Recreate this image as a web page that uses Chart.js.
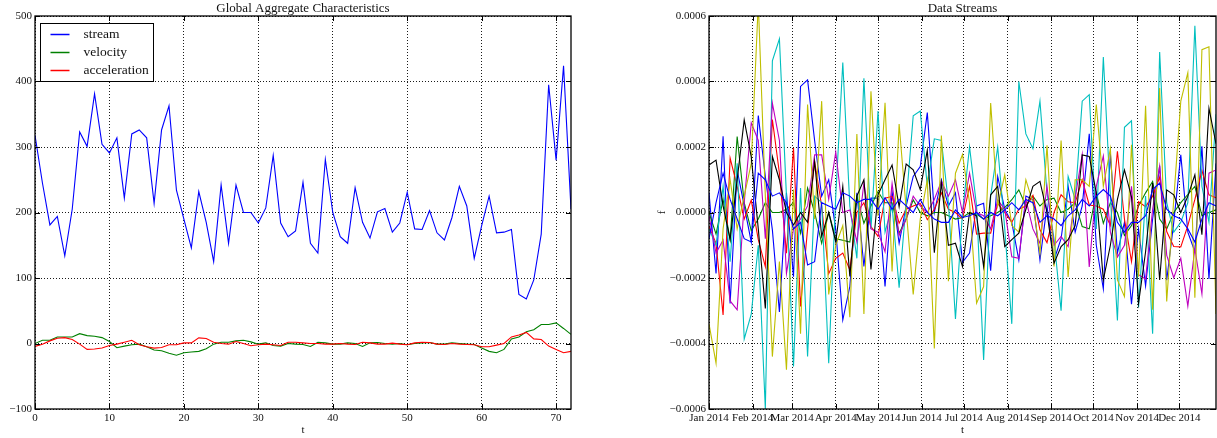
<!DOCTYPE html>
<html>
<head>
<meta charset="utf-8">
<script src="https://cdn.jsdelivr.net/npm/chart.js@4.4.1/dist/chart.umd.min.js"></script>
<style>
  body { margin: 0; background: #fff; }
  #wrap { position: relative; width: 1217px; height: 438px; }
  .box { position: absolute; top: 0; height: 438px; }
</style>
</head>
<body>
<div id="wrap">
  <div class="box" style="left:0;width:600px"><canvas id="aggChart"></canvas></div>
  <div class="box" style="left:600px;width:617px"><canvas id="streamChart"></canvas></div>
</div>
<script>
// ---- left panel: global aggregate characteristics (t = 0..72) ----
var stream = [318, 245, 181, 194, 134, 205, 323, 301, 381, 304,
              291, 314, 222, 320, 326, 314, 214, 326, 363, 234,
              190, 146, 232, 185, 125, 242, 153, 242, 200, 200,
              184, 207, 287, 184, 163, 172, 246, 153, 138, 281,
              200, 163, 153, 238, 185, 161, 201, 206, 170, 184,
              231, 175, 174, 203, 169, 158, 192, 240, 210, 130,
              180, 225, 169, 170, 174, 75, 68, 97, 167, 395,
              280, 424, 205];
var velocity = [0, 5, 5, 10, 10, 10, 15, 12, 11, 9,
                3, -6.5, -4, -2, -1, -5, -10, -11, -15, -18,
                -14, -13, -12, -8, -1, 2, 2, 4, 5, 2.5,
                -1, 1, -3, -4, 0, -1, -1.5, -4.5, 2, 1,
                -1, -1, 1, 0, -4.5, 1, 1.5, 0, -1, 0,
                -2, 0, 1, 1.5, -1, -1, 1, 0, -1, -1.5,
                -7, -12, -14, -9, 7, 10, 18, 21, 29, 29,
                31.5, 23, 14];
var acceleration = [-4.5, -1, 4, 8, 9, 6, -1, -9, -8.5, -7,
                    -3, -1, 2, 5, -2, -5, -7, -6, -2, -2,
                    1, 1, 8.6, 7.6, 2, 0, -1, 3, 0, -3.5,
                    -2, -1, -2, -3, 2, 2, 1, 0, 0, -1,
                    -1, 0, -1, -1.5, 2, 1, -1, -1, 0.5, -1,
                    -2, 1, 2, 1.5, -1, -1.5, 0, -1, -1.5, -2,
                    -5, -5, -2.5, 0, 10, 13, 17, 7, 6, -4,
                    -9, -14, -12];

// ---- right panel: data streams, values in units of 1e-4, one point every 5 days from 1 Jan 2014 ----
var blue = [0.6, -1.86, 2.33, -2.78, 1.3, 0.2, -0.9, 2.96, 1.1, -0.53,
            -3.04, 0.6, -1.96, 3.85, 4.05, 2.2, 0.5, 1.0, -0.53, -3.28,
            -2.26, 0.6, -1.65, 0.44, 0.44, -2.26, 0.64, -0.94, 0.2, 1.1,
            1.4, 3.05, 0.0, 1.0, 0.2, 0.6, -1.52, -1.24, 0.2, 0.28,
            -1.78, 1.1, 0.1, -0.3, -1.45, 0.5, 0.4, -1.45, 0.2, -1.45,
            -0.8, 0.8, -0.6, 0.2, 2.4, -1.0, -2.33, 1.8, -1.24, -0.3,
            -2.8, -0.5, -2.24, -0.2, 1.43, -2.07, -0.3, 1.76, -0.6, -1.2,
            2.02, -2.03, 1.5];
var green = [0.0, -0.66, 0.4, -0.83, 2.32, 0.3, -0.55, -0.2, 0.3, 0.0,
             0.0, 0.1, 0.3, -0.63, 0.75, 0.0, -0.94, 0.0, -0.8, -0.85,
             -0.9, 0.49, -0.33, 0.2, 0.64, 0.3, 0.3, -0.63, -0.2, 0.39,
             0.0, -0.1, 0.0, 0.0, -0.1, -0.2, -0.15, 0.0, -0.05, -0.2,
             -0.1, 0.0, 0.15, 0.39, 0.69, 0.2, 0.5, 0.2, 0.4, 0.44,
             0.0, 0.1, 0.3, -0.43, -0.5, 0.6, -0.33, 0.3, 0.0, -0.7,
             -0.4, 0.2, 0.6, 0.95, -0.2, -0.5, 0.0, 0.3, 0.55, 0.8,
             -0.1, 0.0, 0.08];
var red = [-0.43, -0.94, -3.13, 1.66, 0.8, -0.2, 0.38, -0.83, -1.65, 2.84,
           1.2, -1.24, 1.97, -2.87, -0.5, 1.55, 0.2, -1.87, -1.4, -1.24,
           -1.75, 0.0, 0.3, -0.43, -0.73, 0.44, 0.49, -0.33, 0.1, 0.2,
           0.28, -0.22, 0.1, 0.6, 0.1, 0.0, -0.2, 0.8, -0.66, -0.63,
           -0.63, 0.28, 0.0, -0.3, 0.1, 0.2, 0.52, -0.53, -0.92, 0.0,
           0.54, 0.33, 0.3, 1.0, 0.23, 0.2, 0.1, -0.4, 1.87, -0.2,
           -1.5, 0.33, 0.18, 0.5, 1.08, -0.58, -1.04, -1.05, -0.4, 0.4,
           1.28, 0.54, 0.45];
var cyan = [-0.5, -1.0, 0.8, -1.5, 1.5, -3.86, -3.1, -1.0, -6.0, 4.63,
            5.3, 0.5, -4.7, 0.75, -4.4, 0.5, 0.3, -4.6, 0.5, 4.58,
            0.2, -1.4, 4.1, -0.5, 3.1, -0.6, 0.2, -2.3, 0.3, 2.95,
            3.1, 0.8, 2.25, 2.2, 0.3, -3.25, 0.0, 2.0, 0.2, -4.5,
            0.5, 2.0, -0.5, -3.4, 4.0, 2.4, 1.95, 3.4, 0.6, -0.8,
            -3.0, 1.1, 0.4, 3.4, 3.6, -0.5, 4.75, 0.5, -3.3, 2.6,
            2.8, -2.9, 0.5, -3.7, 4.9, 0.3, -0.6, -0.3, 0.3, 5.7,
            0.8, -0.3, 3.0];
var magenta = [-0.1, -1.24, -0.84, -2.7, -2.97, 0.3, 2.74, 2.2, -0.8, 3.34,
               2.2, -1.86, -0.5, -0.2, 0.2, 1.76, 1.76, 0.4, 1.85, 0.0,
               0.08, -0.9, 0.9, -0.5, -0.6, -1.2, 0.88, -0.7, -0.2, 0.5,
               0.2, 0.0, 0.4, 0.95, 0.5, 1.0, 0.0, 1.2, 0.0, -0.1,
               -0.5, 0.38, 0.1, -1.35, -1.4, 0.4, -0.5, -0.94, 0.8, -1.0,
               -0.73, -1.04, 0.44, 1.77, -1.66, 0.8, 1.73, -0.6, -1.36, -1.0,
               0.8, -1.9, -2.03, 0.1, 1.42, -1.3, -1.99, -1.4, -2.86, -1.1,
               -2.48, 1.2, 1.3];
var yellow = [-3.4, -4.6, -0.5, 1.0, -0.5, 0.5, 1.5, 6.4, 0.5, -4.4,
              -1.5, -4.8, 0.7, -3.7, 3.3, -0.2, 3.4, -2.5, -1.0, -0.4,
              -3.2, 2.4, -3.1, 3.7, -0.1, 3.35, -1.8, 2.7, 0.1, -2.5,
              -0.2, 1.0, -4.15, 2.35, -2.1, 1.2, 1.77, 0.3, -2.77, -2.26,
              3.34, 0.2, 1.15, -0.4, -0.6, 1.0, 0.3, -1.25, 2.05, -1.65,
              2.2, -1.97, 1.0, 1.0, 0.8, 3.3, 0.8, 1.95, -2.06, -2.57,
              2.07, -1.96, 3.26, -2.97, 3.8, -2.72, 0.4, 3.4, 4.27, -2.6,
              4.97, 5.06, -3.1];
var black = [1.45, 1.6, 0.2, -0.83, 1.0, 2.83, 1.7, -0.5, -2.93, 1.71,
             1.0, 0.0, -0.38, 0.0, -0.3, 1.56, -0.73, 0.0, -0.9, 0.8,
             -1.95, 0.5, 1.0, -1.74, 0.54, 1.0, 1.45, 0.18, 1.48, 1.3,
             0.7, 1.9, -1.23, 0.9, -1.0, -0.94, -1.65, 0.0, -0.1, -1.65,
             0.54, 0.8, -1.04, -0.83, -0.63, 0.1, 0.8, 0.95, 0.0, -1.55,
             -1.04, -0.83, -0.4, 1.76, 1.71, 0.6, -2.06, -1.0, 0.4, 1.3,
             0.48, -2.77, -1.2, 0.9, -2.06, 0.69, 0.54, 0.0, 0.5, 1.15,
             -0.68, 3.18, 2.1];
var blue2 = [-0.8, 0.3, 1.2, 0.4, -0.2, -0.8, -0.9, 1.2, 1.0, 0.5,
             0.6, 0.3, -0.5, -0.3, -1.6, -1.5, 0.3, 0.2, 0.1, 0.6,
             0.5, 0.3, 0.4, 0.4, 0.1, 0.45, 0.1, 0.4, 0.2, 0.0,
             0.4, 0.0, -0.2, -0.3, -0.3, 0.08, -0.15, -0.1, 0.0, -0.2,
             0.0, -0.1, 0.08, 0.3, 0.08, 0.4, 0.3, -0.3, -0.1, -0.2,
             -0.4, -0.1, 0.08, 0.4, 0.2, 0.5, 0.7, 0.5, -0.3, -0.6,
             -0.3, -0.3, -0.1, 0.7, 0.9, 0.1, -0.1, -0.2, -0.5, -0.9,
             -0.2, 0.3, 0.2];

var stepDays = 5;
var monthStarts = [0, 31, 59, 90, 120, 151, 181, 212, 243, 273, 304, 334];
var monthLabels = ['Jan 2014', 'Feb 2014', 'Mar 2014', 'Apr 2014', 'May 2014', 'Jun 2014',
                   'Jul 2014', 'Aug 2014', 'Sep 2014', 'Oct 2014', 'Nov 2014', 'Dec 2014'];

var serif = '"Liberation Serif", "DejaVu Serif", serif';
var textColor = '#111';

function minus(s) {
    return String(s).replace('-', '\u2212');
}

// turn a list of values into {x, y} points, x being the step number times the spacing
function toPoints(values, spacing) {
    return values.map(function (v, i) { return { x: i * spacing, y: v }; });
}

function makeSet(label, values, color, n, spacing) {
    return {
        label: label,
        data: toPoints(values, spacing),
        borderColor: color,
        backgroundColor: color,
        borderWidth: 1.1,
        pointRadius: 0,
        tension: 0,
        fill: false,
        order: n   // lower order is drawn later, so the last series sits on top
    };
}

// frame, inward ticks, titles and the legend box, drawn after the datasets
var framePlugin = {
    id: 'frame',
    afterDraw: function (chart, args, opts) {
        var ctx = chart.ctx;
        var a = chart.chartArea;
        var xs = chart.scales.x, ys = chart.scales.y;
        ctx.save();
        ctx.strokeStyle = '#000';
        ctx.lineWidth = 1;
        ctx.beginPath();
        xs.ticks.forEach(function (tk) {
            var px = Math.round(xs.getPixelForValue(tk.value)) + 0.5;
            ctx.moveTo(px, a.top); ctx.lineTo(px, a.top + 5);
            ctx.moveTo(px, a.bottom); ctx.lineTo(px, a.bottom - 5);
        });
        ys.ticks.forEach(function (tk) {
            var py = Math.round(ys.getPixelForValue(tk.value)) + 0.5;
            ctx.moveTo(a.left, py); ctx.lineTo(a.left + 5, py);
            ctx.moveTo(a.right, py); ctx.lineTo(a.right - 5, py);
        });
        ctx.stroke();
        ctx.lineWidth = 1.3;
        ctx.strokeRect(a.left, a.top, a.right - a.left, a.bottom - a.top);

        ctx.fillStyle = textColor;
        ctx.textAlign = 'center';
        ctx.textBaseline = 'alphabetic';
        ctx.font = '13px ' + serif;
        ctx.fillText(opts.title, (a.left + a.right) / 2, a.top - 4);
        ctx.font = '11px ' + serif;
        ctx.fillText(opts.xLabel, (a.left + a.right) / 2, chart.height - 5);
        if (opts.yLabel) {
            ctx.save();
            ctx.translate(opts.yLabelX, (a.top + a.bottom) / 2);
            ctx.rotate(-Math.PI / 2);
            ctx.textBaseline = 'middle';
            ctx.fillText(opts.yLabel, 0, 0);
            ctx.restore();
        }

        if (opts.legend) {
            var bx = a.left + 5.5, by = a.top + 7.5, bw = 113, bh = 58;
            ctx.fillStyle = '#fff';
            ctx.fillRect(bx, by, bw, bh);
            ctx.lineWidth = 1;
            ctx.strokeStyle = '#000';
            ctx.strokeRect(bx, by, bw, bh);
            ctx.font = '13.5px ' + serif;
            ctx.textAlign = 'left';
            ctx.textBaseline = 'middle';
            chart.data.datasets.forEach(function (ds, i) {
                var y = by + 11 + i * 18;
                ctx.strokeStyle = ds.borderColor;
                ctx.lineWidth = 1.5;
                ctx.beginPath();
                ctx.moveTo(bx + 10, y);
                ctx.lineTo(bx + 29, y);
                ctx.stroke();
                ctx.fillStyle = textColor;
                ctx.fillText(ds.label, bx + 43, y);
            });
        }
        ctx.restore();
    }
};

var tickFont = { family: serif, size: 11 };
var gridStyle = { color: '#000', lineWidth: 0.9, drawTicks: false };
var borderStyle = { display: false, dash: [1, 2] };

new Chart(document.getElementById('aggChart'), {
    type: 'line',
    data: {
        datasets: [
            makeSet('stream', stream, '#0000ff', 3, 1),
            makeSet('velocity', velocity, '#008000', 2, 1),
            makeSet('acceleration', acceleration, '#ff0000', 1, 1)
        ]
    },
    options: {
        responsive: true,
        maintainAspectRatio: false,
        animation: false,
        layout: { padding: { top: 16, right: 29, left: 0, bottom: 0 } },
        plugins: {
            legend: { display: false },
            tooltip: { enabled: false },
            frame: { title: 'Global Aggregate Characteristics', xLabel: 't', legend: true }
        },
        scales: {
            x: {
                type: 'linear', min: 0, max: 72,
                afterFit: function (s) { s.height = 29; },
                ticks: { stepSize: 10, includeBounds: false, padding: 3, maxRotation: 0, color: textColor, font: tickFont },
                grid: gridStyle, border: borderStyle
            },
            y: {
                min: -100, max: 500,
                afterFit: function (s) { s.width = 35; },
                ticks: { stepSize: 100, padding: 3, color: textColor, font: tickFont,
                         callback: function (v) { return minus(v); } },
                grid: gridStyle, border: borderStyle
            }
        }
    },
    plugins: [framePlugin]
});

var streamColors = ['#0000ff', '#008000', '#ff0000', '#00bfbf', '#bf00bf', '#bfbf00', '#000000', '#0000ff'];
var streamValues = [blue, green, red, cyan, magenta, yellow, black, blue2];

new Chart(document.getElementById('streamChart'), {
    type: 'line',
    data: {
        datasets: streamValues.map(function (vals, i) {
            return makeSet('stream ' + i, vals, streamColors[i], streamValues.length - i, stepDays);
        })
    },
    options: {
        responsive: true,
        maintainAspectRatio: false,
        animation: false,
        layout: { padding: { top: 16, right: 1, left: 0, bottom: 0 } },
        plugins: {
            legend: { display: false },
            tooltip: { enabled: false },
            frame: { title: 'Data Streams', xLabel: 't', yLabel: 'f', yLabelX: 62 }
        },
        scales: {
            x: {
                type: 'linear', min: 0, max: 360,
                afterBuildTicks: function (s) {
                    s.ticks = monthStarts.map(function (d) { return { value: d }; });
                },
                afterFit: function (s) { s.height = 29; },
                ticks: { autoSkip: false, maxRotation: 0, padding: 3, color: textColor, font: tickFont,
                         callback: function (v) { return monthLabels[monthStarts.indexOf(v)]; } },
                grid: gridStyle, border: borderStyle
            },
            y: {
                min: -6, max: 6,
                afterFit: function (s) { s.width = 109; },
                ticks: { stepSize: 2, padding: 3, color: textColor, font: tickFont,
                         callback: function (v) { return minus((v / 10000).toFixed(4)); } },
                grid: gridStyle, border: borderStyle
            }
        }
    },
    plugins: [framePlugin]
});
</script>
</body>
</html>
